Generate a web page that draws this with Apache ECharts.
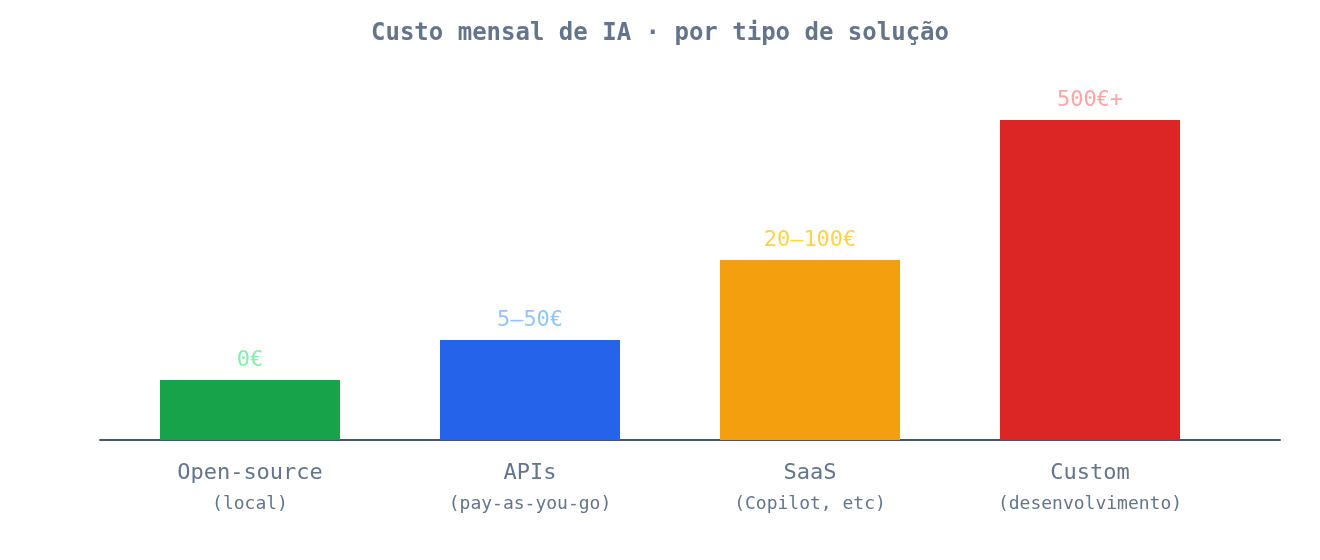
<!DOCTYPE html>
<html>
<head>
<meta charset="utf-8">
<script src="https://cdn.jsdelivr.net/npm/echarts@6/dist/echarts.min.js"></script>
<style>html,body{margin:0;padding:0;background:#fff}#c{width:1320px;height:560px}</style>
</head>
<body>
<div id="c"></div>
<script>
const categories = ['Open-source', 'APIs', 'SaaS', 'Custom'];
const subtitles = ['(local)', '(pay-as-you-go)', '(Copilot, etc)', '(desenvolvimento)'];
const heights = [15, 25, 45, 80];
const valueLabels = ['0€', '5–50€', '20–100€', '500€+'];
const barColors = ['#16a34a', '#2563eb', '#f39f0e', '#dc2626'];
const labelColors = ['#86efac', '#93c5fd', '#fcd34d', '#fca5a5'];

const font = '"DejaVu Sans Mono", monospace';
const chart = echarts.init(document.getElementById('c'), null, {renderer: 'canvas'});
chart.setOption({
  backgroundColor: '#ffffff',
  animation: false,
  title: {
    text: 'Custo mensal de IA · por tipo de solução',
    left: 'center', top: 17,
    textStyle: {fontFamily: font, fontSize: 24, fontWeight: 'bold', color: '#64748b'}
  },
  grid: [
    {left: 110, right: 90, top: 40, bottom: 120},
    {left: 100, right: 40, top: 40, bottom: 120}
  ],
  xAxis: [
    {
      type: 'category', gridIndex: 0, data: categories,
      axisLine: {show: false}, axisTick: {show: false},
      axisLabel: {
        margin: 18,
        formatter: (v, i) => '{a|' + v + '}\n{b|' + subtitles[i] + '}',
        rich: {
          a: {fontFamily: font, fontSize: 22, color: '#64748b', lineHeight: 30},
          b: {fontFamily: font, fontSize: 18, color: '#64748b', lineHeight: 32}
        }
      }
    },
    {
      type: 'value', gridIndex: 1, min: 0, max: 1,
      axisLine: {show: true, onZero: false, lineStyle: {color: '#475569', width: 2}},
      axisTick: {show: false}, axisLabel: {show: false}, splitLine: {show: false}
    }
  ],
  yAxis: [
    {type: 'value', gridIndex: 0, min: 0, max: 100, show: false},
    {type: 'value', gridIndex: 1, min: 0, max: 1, show: false}
  ],
  series: [{
    type: 'bar', xAxisIndex: 0, yAxisIndex: 0,
    barWidth: 180,
    data: heights.map((h, i) => ({
      value: h,
      itemStyle: {color: barColors[i]},
      label: {color: labelColors[i]}
    })),
    label: {
      show: true, position: 'top', distance: 9,
      fontFamily: font, fontSize: 22,
      formatter: p => valueLabels[p.dataIndex]
    }
  }]
});
</script>
</body>
</html>
